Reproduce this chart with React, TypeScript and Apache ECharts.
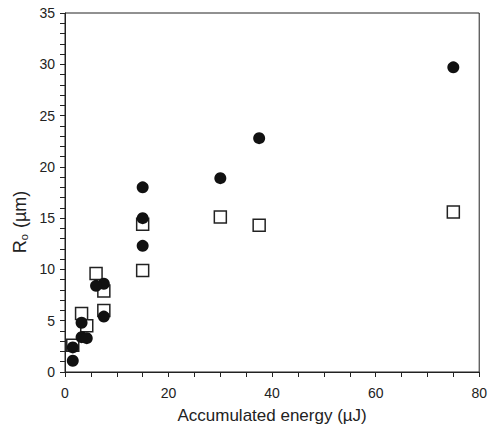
import React, { useEffect, useRef } from "react";
import * as echarts from "echarts";

const circleX = [75, 37.5, 30, 15, 15, 15, 7.5, 6, 7.5, 3.2, 3.2, 4.2, 1.5, 1.5];
const circleY = [29.7, 22.8, 18.9, 18.0, 15.0, 12.3, 8.6, 8.4, 5.4, 4.8, 3.4, 3.3, 2.4, 1.1];
const squareX = [75, 37.5, 30, 15, 15, 6, 7.5, 7.5, 3.2, 4.2, 1.5];
const squareY = [15.6, 14.3, 15.1, 14.4, 9.9, 9.6, 7.9, 6.0, 5.7, 4.5, 2.6];

const xTicks = [0, 20, 40, 60, 80];
const yTicks = [0, 5, 10, 15, 20, 25, 30, 35];

export default function App() {
  const ref = useRef<HTMLDivElement>(null);
  useEffect(() => {
    const chart = echarts.init(ref.current!, null, { renderer: "svg" });
    const font = "Liberation Sans, Arial, sans-serif";
    const axisCommon = {
      axisLine: { show: true, lineStyle: { color: "#222", width: 1 } },
      axisTick: { show: true, length: 5, lineStyle: { color: "#222" } },
      minorTick: { show: true, length: 5, lineStyle: { color: "#222" } },
      splitLine: { show: false },
    };
    chart.setOption({
      animation: false,
      backgroundColor: "#fff",
      grid: { left: 65, right: 8, top: 13, bottom: 58, show: true, borderColor: "#222", borderWidth: 1 },
      xAxis: {
        type: "value",
        min: xTicks[0],
        max: xTicks[xTicks.length - 1],
        interval: 20,
        ...axisCommon,
        axisLabel: { color: "#222", fontSize: 14, fontFamily: font, margin: 14 },
        minorTick: { ...axisCommon.minorTick, splitNumber: 4 },
        name: "Accumulated energy (µJ)",
        nameLocation: "middle",
        nameGap: 35,
        nameTextStyle: { color: "#222", fontSize: 17, fontFamily: font },
      },
      yAxis: {
        type: "value",
        min: yTicks[0],
        max: yTicks[yTicks.length - 1],
        interval: 5,
        ...axisCommon,
        axisLabel: { color: "#222", fontSize: 14, fontFamily: font, margin: 10 },
        minorTick: { ...axisCommon.minorTick, splitNumber: 5 },
      },
      graphic: [
        {
          type: "text",
          x: 20,
          y: 222,
          rotation: Math.PI / 2,
          style: {
            text: "R{sub|o} (µm)",
            fill: "#222",
            fontSize: 18,
            fontFamily: font,
            align: "center",
            verticalAlign: "middle",
            rich: {
              sub: { fontSize: 11, fontFamily: font, fill: "#222", padding: [8, 1, 0, 0] },
            },
          },
        },
      ],
      series: [
        {
          type: "scatter",
          data: squareX.map((x, i) => [x, squareY[i]]),
          symbol: "rect",
          symbolSize: 12,
          itemStyle: { color: "#fff", borderColor: "#222", borderWidth: 1.5, opacity: 1 },
          z: 2,
        },
        {
          type: "scatter",
          data: circleX.map((x, i) => [x, circleY[i]]),
          symbol: "circle",
          symbolSize: 12,
          itemStyle: { color: "#111", borderColor: "#111", borderWidth: 0, opacity: 1 },
          z: 3,
        },
      ],
    });
    return () => chart.dispose();
  }, []);
  return (
    <div
      ref={ref}
      style={{ position: "fixed", left: 0, top: 0, width: 490, height: 430, background: "#fff" }}
    />
  );
}
